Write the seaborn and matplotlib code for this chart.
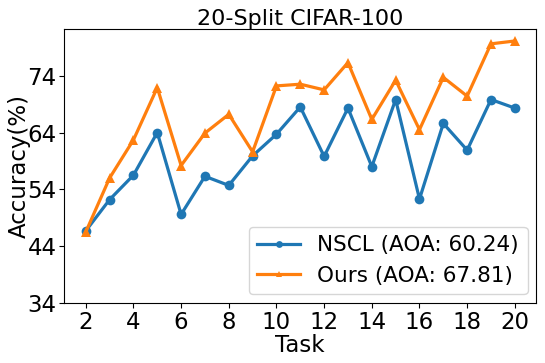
import numpy as np
import pandas as pd
import matplotlib
matplotlib.use("Agg")
import matplotlib.pyplot as plt
import seaborn as sns

tasks = list(range(2, 21))
nscl = [46.7, 52.2, 56.5, 64.0, 49.6, 56.3, 54.7, 59.9, 63.7, 68.5, 59.8, 68.3, 58.0, 69.8, 52.3, 65.6, 60.9, 69.8, 68.3]
ours = [46.5, 56.0, 62.7, 71.9, 58.2, 63.9, 67.2, 60.6, 72.2, 72.5, 71.5, 76.3, 66.3, 73.2, 64.5, 73.7, 70.4, 79.6, 80.1]
labels = ["NSCL (AOA: 60.24)", "Ours (AOA: 67.81)"]
yticks = [34, 44, 54, 64, 74]
xticks = list(range(2, 21, 2))

df = pd.DataFrame({
    "Task": tasks * 2,
    "Accuracy": nscl + ours,
    "Method": [labels[0]] * len(tasks) + [labels[1]] * len(tasks),
})

fig, ax = plt.subplots(figsize=(5.45, 3.63), dpi=100)
sns.lineplot(data=df, x="Task", y="Accuracy", hue="Method", style="Method",
             markers=["o", "^"], dashes=False, palette=["#1f77b4", "#ff7f0e"],
             linewidth=2.3, markersize=7, markeredgewidth=0, ax=ax)

ax.set_ylim(34, 82.2)
ax.set_xlim(1.1, 20.9)
ax.set_yticks(yticks)
ax.set_xticks(xticks)
ax.tick_params(labelsize=16.5, pad=2)
ax.set_xlabel("Task", fontsize=16.5, labelpad=0)
ax.set_ylabel("Accuracy(%)", fontsize=16.5)
ax.yaxis.set_label_coords(-0.072, 0.5)
ax.set_title("20-Split CIFAR-100", fontsize=16, pad=3)
ax.legend(loc="lower right", fontsize=15.5, markerscale=0.7, handlelength=2.0,
          borderaxespad=0.4)

fig.subplots_adjust(left=0.118, right=0.984, top=0.92, bottom=0.165)
fig.savefig("out.png", dpi=100)
